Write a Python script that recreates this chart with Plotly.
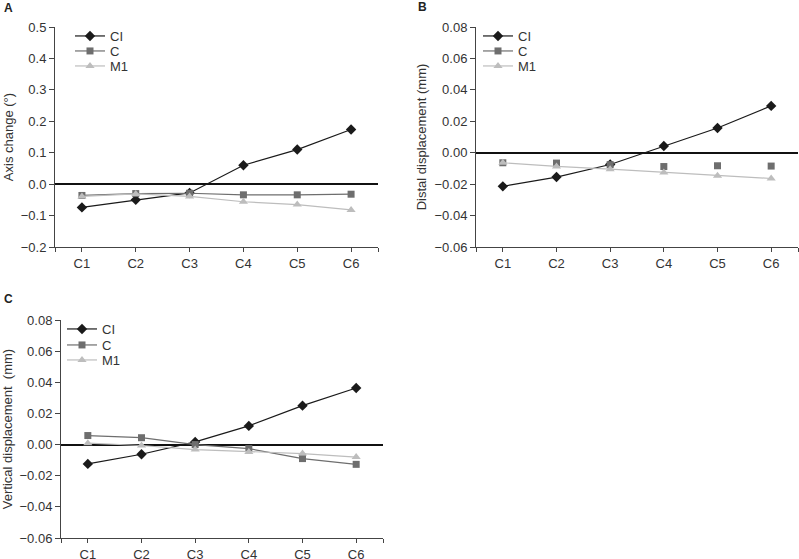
import plotly.graph_objects as go

categories = ["C1", "C2", "C3", "C4", "C5", "C6"]
series_names = ["CI", "C", "M1"]

# Panel A: Axis change (deg)
a_CI = [-0.074, -0.050, -0.028, 0.060, 0.110, 0.174]
a_C = [-0.036, -0.030, -0.029, -0.034, -0.034, -0.032]
a_M1 = [-0.039, -0.031, -0.039, -0.056, -0.065, -0.082]

# Panel B: Distal displacement (mm)
b_CI = [-0.0214, -0.0155, -0.0075, 0.0043, 0.0157, 0.0298]
b_C = [-0.0064, -0.0066, -0.0076, -0.0088, -0.0083, -0.0085]
b_M1 = [-0.0064, -0.0087, -0.0105, -0.0126, -0.0147, -0.0164]

# Panel C: Vertical displacement (mm)
c_CI = [-0.0124, -0.0062, 0.0017, 0.0120, 0.0250, 0.0363]
c_C = [0.0058, 0.0044, 0.0000, -0.0026, -0.0090, -0.0127]
c_M1 = [0.0009, -0.0006, -0.0032, -0.0047, -0.0058, -0.0080]

xidx = list(range(len(categories)))

colors = {"CI": "#1a1a1a", "C": "#6e6e6e", "M1": "#bdbdbd"}
symbols = {"CI": "diamond", "C": "square", "M1": "triangle-up"}
msize = {"CI": 8, "C": 7, "M1": 8}

FONT = "Liberation Sans, Arial, sans-serif"
FS = 13

W, H = 799, 559
def fx(px):
    return px / W
def fy(py):
    return 1 - py / H

fig = go.Figure()

# (xaxis, yaxis, data, marker-only series, legend left px, legend tops px)
panels = [
    ("x", "y", {"CI": a_CI, "C": a_C, "M1": a_M1}, set(), 70, [21, 36, 51]),
    ("x2", "y2", {"CI": b_CI, "C": b_C, "M1": b_M1}, {"C"}, 478, [21, 36, 51]),
    ("x3", "y3", {"CI": c_CI, "C": c_C, "M1": c_M1}, set(), 62, [314, 330, 345]),
]

leg_style = dict(xanchor="left", yanchor="top", bgcolor="rgba(0,0,0,0)",
                 font=dict(family=FONT, size=FS, color="#333"), itemwidth=30, tracegroupgap=0)
legend_layout = {}
n = 0
for xa, ya, data, marker_only, lx, ltops in panels:
    for name, ltop in zip(series_names, ltops):
        n += 1
        lg = "legend" if n == 1 else f"legend{n}"
        legend_layout[lg] = dict(x=fx(lx), y=fy(ltop), **leg_style)
        vals = data[name]
        if name in marker_only:
            fig.add_trace(go.Scatter(
                x=[None], y=[None], mode="lines+markers", name=name,
                line=dict(color=colors[name], width=1.2),
                marker=dict(symbol=symbols[name], size=msize[name], color=colors[name]),
                xaxis=xa, yaxis=ya, legend=lg))
            fig.add_trace(go.Scatter(
                x=xidx, y=vals, mode="markers", name=name, showlegend=False,
                marker=dict(symbol=symbols[name], size=msize[name], color=colors[name]),
                xaxis=xa, yaxis=ya))
        else:
            fig.add_trace(go.Scatter(
                x=xidx, y=vals, mode="lines+markers", name=name,
                line=dict(color=colors[name], width=1.2),
                marker=dict(symbol=symbols[name], size=msize[name], color=colors[name]),
                xaxis=xa, yaxis=ya, legend=lg))

tickvals_x = [-0.5] + xidx + [len(categories) - 0.5]
ticktext_x = [""] + categories + [""]

xcommon = dict(range=[-0.5, len(categories) - 0.5], tickmode="array", tickvals=tickvals_x,
               ticktext=ticktext_x, showline=True, linecolor="#444", linewidth=1,
               ticks="outside", ticklen=4, tickcolor="#444", showgrid=False, zeroline=False,
               automargin=False, tickfont=dict(family=FONT, size=FS, color="#333"))
ycommon = dict(showline=True, linecolor="#444", linewidth=1, ticks="outside", ticklen=5,
               tickcolor="#444", showgrid=False, zeroline=True, zerolinecolor="#111",
               zerolinewidth=1.5, automargin=False,
               tickfont=dict(family=FONT, size=FS, color="#333"))

def ytitle(t):
    return dict(text=t, standoff=4, font=dict(family=FONT, size=FS, color="#333"))

fig.update_layout(
    width=W, height=H, margin=dict(l=0, r=0, t=0, b=0, autoexpand=False),
    plot_bgcolor="white", paper_bgcolor="white",
    font=dict(family=FONT, size=FS, color="#333"),
    xaxis=dict(domain=[fx(55), fx(378)], anchor="y", **xcommon),
    yaxis=dict(domain=[fy(247), fy(27)], anchor="x", range=[-0.2, 0.5], dtick=0.1,
               tickformat=".1f", title=ytitle("Axis change (°)"), **ycommon),
    xaxis2=dict(domain=[fx(476), fx(798)], anchor="y2", **xcommon),
    yaxis2=dict(domain=[fy(247), fy(27)], anchor="x2", range=[-0.06, 0.08], dtick=0.02,
                tickformat=".2f", title=ytitle("Distal displacement (mm)"), **ycommon),
    xaxis3=dict(domain=[fx(61), fx(383)], anchor="y3", **xcommon),
    yaxis3=dict(domain=[fy(538), fy(320)], anchor="x3", range=[-0.06, 0.08], dtick=0.02,
                tickformat=".2f", title=ytitle("Vertical displacement  (mm)"), **ycommon),
    showlegend=True,
    **legend_layout,
)

for txt, px, py in [("A", 2, 8), ("B", 416, 7), ("C", 2, 299)]:
    fig.add_annotation(text=f"<b>{txt}</b>", x=fx(px), y=fy(py), xref="paper", yref="paper",
                       xanchor="left", yanchor="middle", showarrow=False,
                       font=dict(family=FONT, size=12, color="#222"))

fig.write_html("out.html", config={"displayModeBar": False},
               post_script="document.body.style.margin='0';document.body.style.overflow='hidden';")
